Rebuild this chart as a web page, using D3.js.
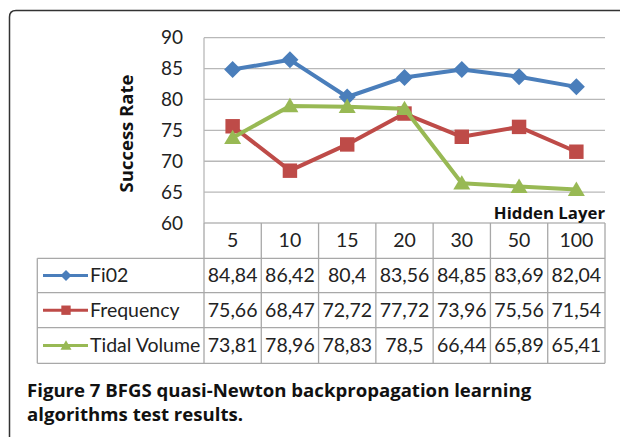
<!DOCTYPE html>
<html><head><meta charset="utf-8">
<script src="https://cdn.jsdelivr.net/npm/d3@7"></script>
<style>body{margin:0;background:#fff}svg{display:block}</style>
</head><body>
<svg id="c" width="620" height="437"></svg>
<script>
const categories = ["5","10","15","20","30","50","100"];
const seriesNames = ["Fi02","Frequency","Tidal Volume"];
const fi02 = [84.84,86.42,80.4,83.56,84.85,83.69,82.04];
const frequency = [75.66,68.47,72.72,77.72,73.96,75.56,71.54];
const tidalVolume = [73.81,78.96,78.83,78.5,66.44,65.89,65.41];
const yTicks = [60,65,70,75,80,85,90];
const colors = ["#4a7ebb","#be4b48","#98b954"];
const markers = ["diamond","square","triangle"];
const values = [fi02, frequency, tidalVolume];
const fmt = v => String(v).replace(".", ",");

const svg = d3.select("#c");
const font = "'Open Sans', sans-serif";
const tfont = "Lato, sans-serif";
const L = 204, R = 605, T = 37.7, B = 223;

// frame
svg.append("path").attr("d", `M9.5,440 V17 Q9.5,10.5 16,10.5 H625`)
  .attr("fill","none").attr("stroke","#333").attr("stroke-width",1.5);

const x = d3.scaleBand().domain(categories).range([L,R]);
const y = d3.scaleLinear().domain([60,90]).range([B,T]);

// gridlines
svg.append("g").selectAll("line").data(yTicks).join("line")
  .attr("x1",L).attr("x2",R).attr("y1",d=>y(d)).attr("y2",d=>y(d))
  .attr("stroke","#b8b8b8").attr("stroke-width",1.3);
svg.append("line").attr("x1",L).attr("x2",L).attr("y1",T).attr("y2",B).attr("stroke","#b8b8b8").attr("stroke-width",1.3);

// y axis labels
const yAxis = d3.axisLeft(y).tickValues(yTicks).tickSize(0).tickPadding(21);
const ya = svg.append("g").attr("transform",`translate(${L},0)`).call(yAxis);
ya.select(".domain").remove();
ya.selectAll("text").attr("font-family",tfont).attr("font-size",19).attr("fill","#222");

svg.append("text").attr("transform",`translate(133,133.5) rotate(-90)`).attr("text-anchor","middle")
  .attr("font-family",font).attr("font-weight","bold").attr("font-size",18.5).attr("fill","#111").text("Success Rate");
svg.append("text").attr("x",R).attr("y",219).attr("text-anchor","end")
  .attr("font-family",font).attr("font-weight","bold").attr("font-size",16.8).attr("fill","#111").text("Hidden Layer");

function markerPath(type, s){
  if(type==="diamond") return `M0,${-s}L${s},0L0,${s}L${-s},0Z`;
  if(type==="square") return `M${-s*0.85},${-s*0.85}H${s*0.85}V${s*0.85}H${-s*0.85}Z`;
  return `M0,${-s*0.95}L${s},${s*0.75}L${-s},${s*0.75}Z`;
}

const line = d3.line().x((d,i)=>x(categories[i])+x.bandwidth()/2).y(d=>y(d));
values.forEach((vals,k)=>{
  const g = svg.append("g");
  g.append("path").attr("d",line(vals)).attr("fill","none").attr("stroke",colors[k]).attr("stroke-width",4).attr("stroke-linejoin","round");
  g.selectAll("path.m").data(vals).join("path").attr("class","m")
    .attr("transform",(d,i)=>`translate(${x(categories[i])+x.bandwidth()/2},${y(d)})`)
    .attr("d",markerPath(markers[k],8.5)).attr("fill",colors[k]);
});

// table
const rowY = [223,258.3,292.7,327.7,363.3];
const tL = 37.3;
const tg = svg.append("g");
const gc = "#a8a8a8";
const cols = [L].concat(categories.map(c=>x(c)+x.bandwidth()));
cols.forEach(cx=>{
  tg.append("line").attr("x1",cx).attr("x2",cx).attr("y1",rowY[0]).attr("y2",rowY[4]).attr("stroke",gc).attr("stroke-width",1.3);
});
tg.append("line").attr("x1",tL).attr("x2",tL).attr("y1",rowY[1]).attr("y2",rowY[4]).attr("stroke",gc).attr("stroke-width",1.3);
rowY.slice(1).forEach(ry=>{
  tg.append("line").attr("x1",tL).attr("x2",R).attr("y1",ry).attr("y2",ry).attr("stroke",gc).attr("stroke-width",1.3);
});
tg.selectAll("text.h").data(categories).join("text").attr("class","h")
  .attr("x",d=>x(d)+x.bandwidth()/2).attr("y",rowY[0]+24).attr("text-anchor","middle")
  .attr("font-family",tfont).attr("font-size",19.5).attr("fill","#222").text(d=>d);
values.forEach((vals,k)=>{
  const cy = (rowY[k+1]+rowY[k+2])/2;
  tg.append("line").attr("x1",43).attr("x2",88).attr("y1",cy).attr("y2",cy).attr("stroke",colors[k]).attr("stroke-width",3);
  tg.append("path").attr("transform",`translate(66,${cy})`).attr("d",markerPath(markers[k],5.5)).attr("fill",colors[k]);
  tg.append("text").attr("x",90).attr("y",cy+6.5).attr("font-family",tfont).attr("font-size",19.5).attr("fill","#222").text(seriesNames[k]);
  tg.selectAll(null).data(vals).join("text")
    .attr("x",(d,i)=>x(categories[i])+x.bandwidth()/2).attr("y",cy+6.5).attr("text-anchor","middle")
    .attr("font-family",tfont).attr("font-size",19.5).attr("fill","#222").text(d=>fmt(d));
});

// caption
const cap = svg.append("text").attr("x",27).attr("y",397).attr("font-family",font).attr("font-weight","bold").attr("font-size",18.6).attr("fill","#111");
cap.append("tspan").text("Figure 7");
cap.append("tspan").text(" BFGS quasi-Newton backpropagation learning");
svg.append("text").attr("x",27).attr("y",421).attr("font-family",font).attr("font-weight","bold").attr("font-size",18.6).attr("fill","#111").text("algorithms test results.");
</script>
</body></html>
